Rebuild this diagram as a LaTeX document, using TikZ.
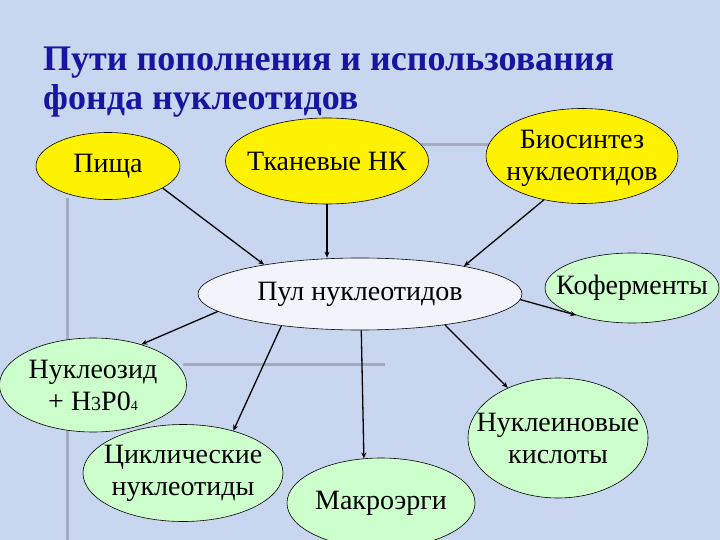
\documentclass[tikz,border=0pt]{standalone}
\usepackage{fontspec}
\setmainfont{Liberation Serif}
\usetikzlibrary{arrows.meta,shapes.geometric}
\definecolor{slidebg}{RGB}{200,214,240}
\definecolor{titleblue}{RGB}{22,22,160}
\definecolor{tplgray}{RGB}{166,170,190}
\definecolor{poolfill}{RGB}{243,243,252}
\definecolor{mint}{RGB}{204,255,204}
\tikzset{
  bub/.style={ellipse,draw,line width=0.6pt,align=center,inner xsep=-40pt,inner ysep=0pt,font=\fontsize{28}{32}\selectfont},
  yel/.style={bub,fill=yellow},
  grn/.style={bub,fill=mint},
  pool/.style={bub,fill=poolfill},
  arr/.style={-{Stealth[length=6pt,width=5pt]},line width=1.3pt},
  tpl/.style={draw=tplgray,line width=3pt},
  ttl/.style={font=\fontsize{36}{38}\selectfont\bfseries,text=titleblue,inner sep=0pt,anchor=base west},
}

\begin{document}
\begin{tikzpicture}[x=1pt,y=-1pt]
\clip (0,0) rectangle (720,540);
\fill[slidebg] (0,0) rectangle (720,540);
% slide template lines
\draw[tpl] (67,198) -- (67,540);
\draw[tpl] (420,145) -- (490,145);
\draw[tpl] (183,364) -- (385,364);

\node[ttl] (t1) at (43,71) {Пути пополнения и использования};
\node[ttl] (t2) at (43,110) {фонда нуклеотидов};

% sources
\node[yel,minimum width=144pt,minimum height=67pt] (pis) at (108,166) {Пища};
\node[yel,minimum width=203pt,minimum height=86pt] (tk) at (327,161) {Тканевые НК};
\node[yel,minimum width=192pt,minimum height=95pt,text depth=2pt] (bio) at (582,156) {Биосинтез\\нуклеотидов};
\node[pool,minimum width=324pt,minimum height=72pt] (pul) at (360,294) {Пул нуклеотидов};
% uses
\node[grn,minimum width=174pt,minimum height=70pt] (kof) at (632,288) {Коферменты};
\node[grn,minimum width=187pt,minimum height=94pt] (nzd) at (93,385) {Нуклеозид\\+ Н{\fontsize{20}{20}\selectfont 3}Р0{\fontsize{14}{14}\selectfont 4}};
\node[grn,minimum width=200pt,minimum height=97pt] (cyc) at (183,473) {Циклические\\нуклеотиды};
\node[grn,minimum width=188pt,minimum height=90pt] (mak) at (381,503) {Макроэрги};
\node[grn,minimum width=180pt,minimum height=120pt] (nk) at (558,438) {Нуклеиновые\\кислоты};

\draw[arr] (pis.-22) -- (pul.163);
\draw[arr] (tk.south) -- (tk.south |- pul.north);
\draw[arr] (bio.-131) -- (pul.15);
\draw[arr] (pul.-2) -- (kof.-154);
\draw[arr] (pul.-173) -- (nzd.40);
\draw[arr] (pul.-158) -- (cyc.40);
\draw[arr] (pul.-88) -- (mak.111);
\draw[arr] (pul.-20) -- (nk.135);
\end{tikzpicture}
\end{document}
